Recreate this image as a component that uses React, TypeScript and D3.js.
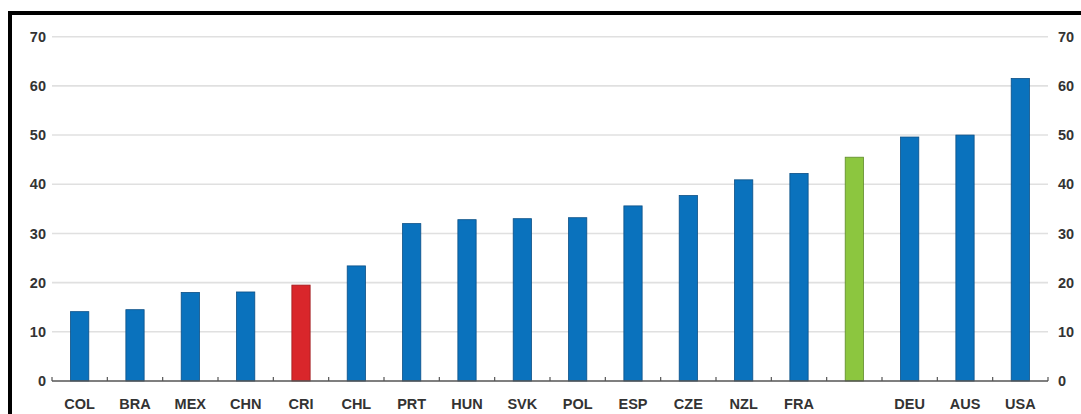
import * as d3 from "d3";

const categories = [
  "COL", "BRA", "MEX", "CHN", "CRI", "CHL", "PRT", "HUN", "SVK",
  "POL", "ESP", "CZE", "NZL", "FRA", "", "DEU", "AUS", "USA",
];
const values = [
  14.1, 14.5, 18.0, 18.1, 19.5, 23.4, 32.0, 32.8, 33.0,
  33.2, 35.6, 37.7, 40.9, 42.2, 45.5, 49.6, 50.0, 61.5,
];
const highlight = ["", "", "", "", "red", "", "", "", "", "", "", "", "", "", "green", "", "", ""];
const yTicks = [0, 10, 20, 30, 40, 50, 60, 70];

const WIDTH = 1081;
const HEIGHT = 414;
const FILL: Record<string, string> = { "": "#0a72bd", red: "#d9262b", green: "#8cc63f" };
const STROKE: Record<string, string> = { "": "#0a4f86", red: "#9e1a1d", green: "#5f8a2a" };

const App = () => {
  const x = d3
    .scaleBand<number>()
    .domain(categories.map((_, i) => i))
    .range([52, 1048]);
  const y = d3.scaleLinear().domain([0, 70]).range([381, 36.7]);
  const barW = x.bandwidth() * 0.33;
  const font = "'Liberation Sans', Arial, sans-serif";

  return (
    <div style={{ position: "fixed", left: 0, top: 0, background: "#fff" }}>
      <svg width={WIDTH} height={HEIGHT} style={{ display: "block" }}>
        <rect x={0} y={0} width={WIDTH} height={HEIGHT} fill="#fff" />
        {/* frame */}
        <path d={`M10,${HEIGHT + 5} V13 H${WIDTH + 5}`} fill="none" stroke="#000" strokeWidth={4} />

        {/* gridlines */}
        {yTicks.filter((t) => t > 0).map((t) => (
          <line key={t} x1={52} x2={1048} y1={y(t)} y2={y(t)} stroke="#e0e0e0" strokeWidth={1.6} />
        ))}

        {/* y labels, both sides */}
        {yTicks.map((t) => (
          <g key={t} fontFamily={font} fontSize={14.5} fontWeight={700} fill="#333">
            <text x={46} y={y(t)} dy="0.35em" textAnchor="end">{t}</text>
            <text x={1058} y={y(t)} dy="0.35em" textAnchor="start">{t}</text>
          </g>
        ))}

        {/* bars */}
        {values.map((v, i) => (
          <rect
            key={i}
            x={(x(i) as number) + (x.bandwidth() - barW) / 2}
            y={y(v)}
            width={barW}
            height={y(0) - y(v)}
            fill={FILL[highlight[i]]}
            stroke={STROKE[highlight[i]]}
            strokeWidth={0.8}
          />
        ))}

        {/* x axis */}
        <line x1={52} x2={1048} y1={y(0)} y2={y(0)} stroke="#555" strokeWidth={1.5} />
        {categories.map((_, i) => (
          <line key={i} x1={x(i) as number} x2={x(i) as number} y1={y(0)} y2={y(0) - 4} stroke="#555" strokeWidth={1.2} />
        ))}
        <line x1={1048} x2={1048} y1={y(0)} y2={y(0) - 4} stroke="#555" strokeWidth={1.2} />

        {/* x labels */}
        {categories.map((c, i) => (
          <text
            key={i}
            x={(x(i) as number) + x.bandwidth() / 2}
            y={409}
            textAnchor="middle"
            fontFamily={font}
            fontSize={14.5}
            fontWeight={700}
            fill="#333"
          >
            {c}
          </text>
        ))}
      </svg>
    </div>
  );
};

export default App;
